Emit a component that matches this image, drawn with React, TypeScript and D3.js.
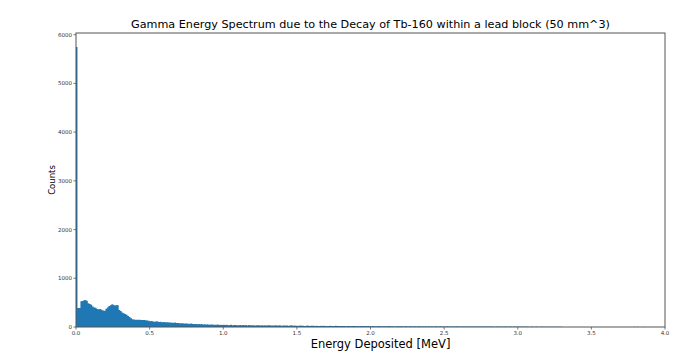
import React from "react";
import * as d3 from "d3";

const BIN_WIDTH = 0.01; // MeV
const counts: number[] = [
  // 0.0 - 0.5
  5750, 390, 390, 530, 535, 550, 555, 540, 490, 470,
  455, 420, 400, 395, 370, 365, 370, 355, 340, 335,
  375, 400, 430, 445, 465, 455, 440, 450, 445, 350,
  330, 300, 280, 265, 250, 225, 205, 180, 160, 155,
  150, 150, 148, 150, 145, 145, 142, 140, 135, 128,
  // 0.5 - 1.0
  120, 125, 115, 110, 118, 112, 105, 108, 100, 102,
  98, 95, 97, 90, 92, 88, 85, 90, 82, 80,
  78, 75, 78, 72, 70, 74, 68, 65, 70, 62,
  60, 64, 58, 60, 55, 62, 52, 58, 50, 55,
  48, 52, 50, 45, 48, 44, 50, 42, 46, 40,
  // 1.0 - 1.5
  44, 42, 45, 36, 40, 44, 35, 39, 41, 37,
  38, 43, 34, 40, 36, 39, 33, 41, 35, 38,
  36, 32, 38, 34, 37, 31, 35, 33, 36, 30,
  34, 37, 31, 33, 29, 35, 32, 30, 34, 28,
  31, 33, 29, 32, 27, 30, 34, 28, 31, 26,
  // 1.5 - 2.0
  28, 25, 30, 24, 27, 23, 26, 29, 22, 25,
  24, 27, 21, 25, 23, 20, 26, 22, 24, 19,
  23, 21, 25, 20, 22, 18, 24, 21, 19, 23,
  20, 18, 22, 17, 21, 19, 16, 20, 18, 22,
  17, 19, 15, 21, 18, 16, 20, 14, 18, 17,
  // 2.0 - 2.5
  16, 19, 15, 17, 14, 18, 16, 13, 17, 15,
  14, 16, 18, 13, 15, 17, 12, 16, 14, 15,
  13, 16, 12, 15, 14, 11, 16, 13, 12, 15,
  14, 11, 13, 15, 12, 14, 10, 13, 12, 14,
  11, 13, 12, 10, 14, 12, 11, 13, 10, 12,
  // 2.5 - 3.0
  12, 10, 13, 11, 9, 12, 10, 11, 13, 9,
  11, 10, 12, 8, 11, 9, 12, 10, 8, 11,
  10, 9, 11, 8, 10, 12, 9, 8, 10, 9,
  8, 10, 9, 11, 7, 9, 10, 8, 9, 7,
  9, 8, 10, 7, 9, 8, 6, 9, 8, 7,
  // 3.0 - 3.5
  8, 7, 9, 6, 8, 7, 9, 6, 7, 8,
  6, 7, 8, 5, 7, 6, 8, 5, 7, 6,
  5, 6, 7, 5, 6, 4, 6, 5, 4, 5,
  0, 1, 0, 0, 1, 0, 0, 0, 1, 0,
  0, 2, 1, 0, 2, 1, 0, 1, 2, 0,
  // 3.5 - 4.0
  1, 2, 0, 1, 2, 1, 0, 0, 0, 0,
  0, 0, 0, 0, 0, 1, 0, 0, 0, 0,
  0, 0, 0, 0, 0, 1, 2, 1, 2, 3,
  2, 3, 2, 1, 2, 3, 1, 0, 0, 0,
  0, 0, 0, 0, 0, 0, 0, 0, 0, 0,
];

const xTicks = [0, 0.5, 1.0, 1.5, 2.0, 2.5, 3.0, 3.5, 4.0];
const yTicks = [0, 1000, 2000, 3000, 4000, 5000, 6000];

const TITLE = "Gamma Energy Spectrum due to the Decay of Tb-160 within a lead block (50 mm^3)";
const X_LABEL = "Energy Deposited [MeV]";
const Y_LABEL = "Counts";

export default function App() {
  const W = 690, H = 355;
  const left = 76, right = 665, top = 33, bottom = 327;
  const x = d3.scaleLinear().domain([0, 4]).range([left, right]);
  const y = d3.scaleLinear().domain([0, 6035]).range([bottom, top]);

  const pts = counts.map((c, i) => ({ x0: i * BIN_WIDTH, c }));
  pts.push({ x0: counts.length * BIN_WIDTH, c: 0 });
  const area = d3
    .area<{ x0: number; c: number }>()
    .x((d) => x(d.x0))
    .y0(y(0))
    .y1((d) => y(d.c))
    .curve(d3.curveStepAfter);

  const font = "DejaVu Sans, sans-serif";
  const tickColor = "#333";

  return (
    <svg width={W} height={H} style={{ position: "absolute", left: 0, top: 0, background: "#fff" }}>
      <path d={area(pts) || ""} fill="#1f77b4" />
      <rect x={left} y={top} width={right - left} height={bottom - top} fill="none" stroke="#555" strokeWidth={1} />
      {xTicks.map((t) => (
        <g key={"x" + t}>
          <line x1={x(t)} x2={x(t)} y1={bottom} y2={bottom + 2.5} stroke="#555" strokeWidth={0.8} />
          <text x={x(t)} y={bottom + 8} fontSize={5.5} fontFamily={font} textAnchor="middle" fill={tickColor}>
            {t.toFixed(1)}
          </text>
        </g>
      ))}
      {yTicks.map((t) => (
        <g key={"y" + t}>
          <line x1={left - 2.5} x2={left} y1={y(t)} y2={y(t)} stroke="#555" strokeWidth={0.8} />
          <text x={left - 4} y={y(t) + 2} fontSize={5.5} fontFamily={font} textAnchor="end" fill={tickColor}>
            {t}
          </text>
        </g>
      ))}
      <text x={(left + right) / 2} y={28} fontSize={11.2} fontFamily={font} textAnchor="middle" fill="#000">
        {TITLE}
      </text>
      <text x={(left + right) / 2 + 10} y={348} fontSize={11.5} fontFamily={font} textAnchor="middle" fill="#000">
        {X_LABEL}
      </text>
      <text
        transform={`translate(55, ${(top + bottom) / 2}) rotate(-90)`}
        fontSize={8.5}
        fontFamily={font}
        textAnchor="middle"
        fill="#000"
      >
        {Y_LABEL}
      </text>
    </svg>
  );
}
